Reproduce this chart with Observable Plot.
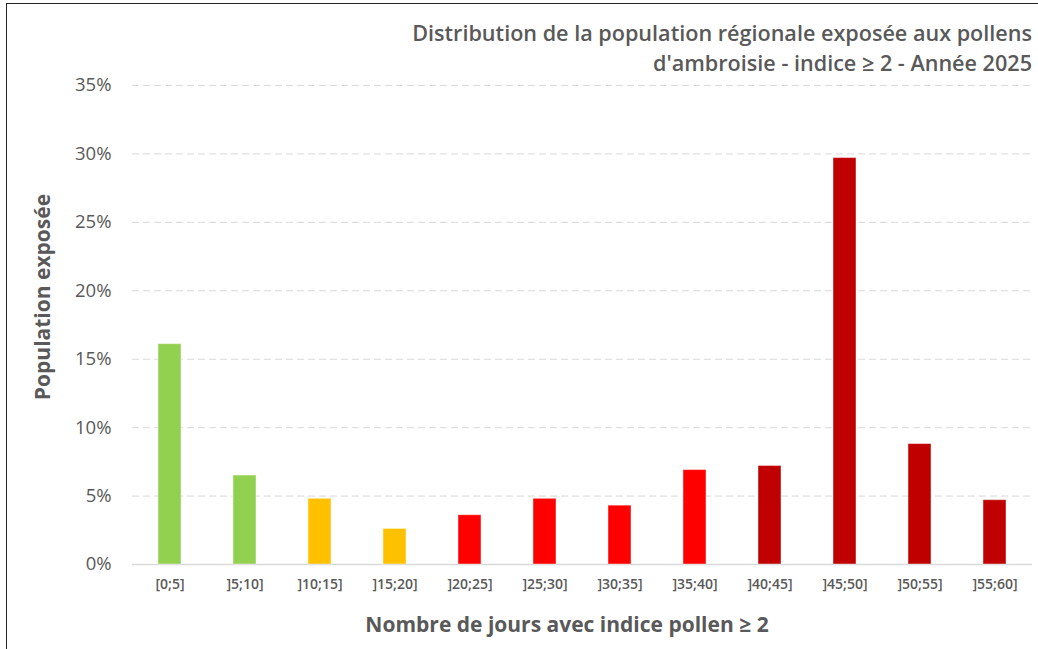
<!DOCTYPE html>
<html>
<head>
<meta charset="utf-8">
<script src="https://cdn.jsdelivr.net/npm/d3@7"></script>
<script src="https://cdn.jsdelivr.net/npm/@observablehq/plot@0.6"></script>
<style>
  html, body { margin: 0; padding: 0; background: #fff; }
  #wrap { position: relative; width: 1038px; height: 649px; overflow: hidden; font-family: "Open Sans", sans-serif; color: #595959; }
  #frame { position: absolute; left: 6px; top: 3px; right: -10px; bottom: -10px; border-top: 1px solid #262626; border-left: 1px solid #262626; pointer-events: none; }
  .title { position: absolute; right: 6px; font-size: 21.6px; font-weight: 600; line-height: 30px; white-space: nowrap; text-align: right; }
  #ylab { position: absolute; left: 42px; top: 297px; transform: translate(-50%, -50%) rotate(-90deg); font-size: 21px; font-weight: 700; white-space: nowrap; }
  #xlab { position: absolute; left: 567px; top: 624px; transform: translate(-50%, -50%); font-size: 21px; font-weight: 700; white-space: nowrap; }
  #chart svg g[aria-label="x-axis tick label"] text { font-weight: 600; }
</style>
</head>
<body>
<div id="wrap">
  <div id="chart"></div>
  <div class="title" style="top:18px">Distribution de la population régionale exposée aux pollens</div>
  <div class="title" style="top:48px">d'ambroisie - indice ≥ 2 - Année 2025</div>
  <div id="ylab">Population exposée</div>
  <div id="xlab">Nombre de jours avec indice pollen ≥ 2</div>
  <div id="frame"></div>
</div>
<script>
const categories = ["[0;5]", "]5;10]", "]10;15]", "]15;20]", "]20;25]", "]25;30]", "]30;35]", "]35;40]", "]40;45]", "]45;50]", "]50;55]", "]55;60]"];
const values = [16.1, 6.5, 4.8, 2.6, 3.6, 4.8, 4.3, 6.9, 7.2, 29.7, 8.8, 4.7];
const levels = ["vert", "vert", "orange", "orange", "rouge", "rouge", "rouge", "rouge", "rouge foncé", "rouge foncé", "rouge foncé", "rouge foncé"];
const levelNames = ["vert", "orange", "rouge", "rouge foncé"];
const levelColors = ["#92D050", "#FFC000", "#FF0000", "#C00000"];
const yTicks = [0, 5, 10, 15, 20, 25, 30, 35];

const data = categories.map((c, i) => ({cat: c, value: values[i], level: levels[i]}));

const chart = Plot.plot({
  width: 1038,
  height: 649,
  marginLeft: 132,
  marginRight: 6,
  marginTop: 85,
  marginBottom: 85,
  style: {fontFamily: "'Open Sans', sans-serif", color: "#595959", background: "transparent"},
  x: {domain: categories, paddingInner: 0.687, paddingOuter: 0.3435, align: 0.5, label: null},
  y: {domain: [0, 35], label: null},
  color: {domain: levelNames, range: levelColors},
  marks: [
    Plot.gridY(yTicks, {stroke: "#d9d9d9", strokeOpacity: 1, strokeWidth: 1, strokeDasharray: "7,4"}),
    Plot.ruleY([0], {stroke: "#d9d9d9", strokeWidth: 1.5}),
    Plot.barY(data, {x: "cat", y: "value", fill: "level", stroke: "#ffffff", strokeOpacity: 0.45, strokeWidth: 1}),
    Plot.axisY(yTicks, {tickSize: 0, tickPadding: 21, tickFormat: d => d + "%", fontSize: 18.5, label: null}),
    Plot.axisX({tickSize: 0, tickPadding: 15, fontSize: 14, fontWeight: 600, label: null})
  ]
});
document.getElementById("chart").appendChild(chart);
</script>
</body>
</html>
